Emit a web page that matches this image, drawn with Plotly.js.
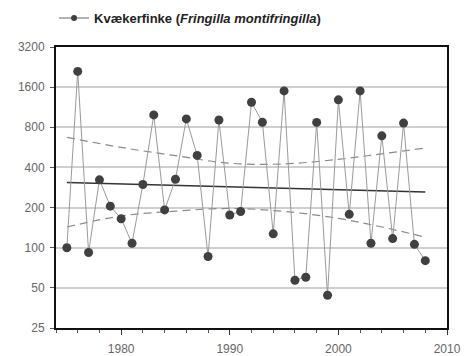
<!DOCTYPE html>
<html>
<head>
<meta charset="utf-8">
<script src="https://cdn.plot.ly/plotly-3.0.1.min.js"></script>
<style>html,body{margin:0;padding:0;background:#fff;}#chart{width:465px;height:356px;}</style>
</head>
<body>
<div id="chart"></div>
<script>
const years = [1975,1976,1977,1978,1979,1980,1981,1982,1983,1984,1985,1986,1987,1988,1989,1990,1991,1992,1993,1994,1995,1996,1997,1998,1999,2000,2001,2002,2003,2004,2005,2006,2007,2008];
const counts = [100,2100,92,323,205,165,108,298,990,192,326,925,492,86,908,176,187,1233,872,127,1500,57,60,870,44,1285,178,1500,108,690,117,860,106,80];
const trendYears = [1975, 2008];
const trendVals = [308, 262];
const bandYears = [1975,1980,1985,1990,1995,2000,2004,2008];
const upperBand = [673,565,490,430,425,460,506,559];
const lowerBand = [143,173,188,197,187,166,143,120];
const yTicks = [25,50,100,200,400,800,1600,3200];
const seriesName = 'Kvækerfinke (<i>Fringilla montifringilla</i>)';

const traces = [
  {x: bandYears, y: upperBand, mode:'lines', line:{color:'#8a8a8a', width:1.2, dash:'8px,5px', shape:'spline'}, showlegend:false, hoverinfo:'skip'},
  {x: bandYears, y: lowerBand, mode:'lines', line:{color:'#8a8a8a', width:1.2, dash:'8px,5px', shape:'spline'}, showlegend:false, hoverinfo:'skip'},
  {x: trendYears, y: trendVals, mode:'lines', line:{color:'#333', width:1.5}, showlegend:false, hoverinfo:'skip'},
  {x: years, y: counts, mode:'lines+markers', showlegend:false,
   line:{color:'#9a9a9a', width:1}, marker:{color:'#404040', size:9}},
  {x: [null], y: [null], mode:'lines+markers', name: seriesName,
   line:{color:'#666', width:1}, marker:{color:'#404040', size:6}}
];

const layout = {
  width:465, height:356,
  margin:{l:56, r:18, t:47, b:28, autoexpand:false},
  paper_bgcolor:'#fff', plot_bgcolor:'#fff',
  font:{family:'"Liberation Sans", Arial, sans-serif', color:'#555', size:12},
  showlegend:true,
  legend:{x:-0.005, xanchor:'left', y:1.103, yanchor:'middle', font:{size:13, color:'#222', weight:'bold'}, bgcolor:'rgba(0,0,0,0)', borderwidth:0},
  xaxis:{range:[1974,2010], tickvals:[1980,1990,2000,2010], ticks:'outside', ticklen:5, tickcolor:'#333',
    minor:{dtick:2, tick0:1974, ticks:'outside', ticklen:3, tickcolor:'#555', showgrid:false},
    showgrid:false, zeroline:false, showline:true, linecolor:'#111', linewidth:2, mirror:true,
    ticklabelstandoff:4, tickfont:{size:12, color:'#666'}},
  yaxis:{type:'log', range:[Math.log10(25), Math.log10(3200)], tickvals:yTicks, ticktext:yTicks.map(String),
    ticks:'outside', ticklen:4, tickcolor:'#555', showgrid:true, gridcolor:'#cfcfcf', gridwidth:2,
    zeroline:false, showline:true, linecolor:'#111', linewidth:2, mirror:true,
    ticklabelstandoff:3, tickfont:{size:12, color:'#666'}}
};

Plotly.newPlot('chart', traces, layout, {staticPlot:true, displayModeBar:false});
</script>
</body>
</html>
